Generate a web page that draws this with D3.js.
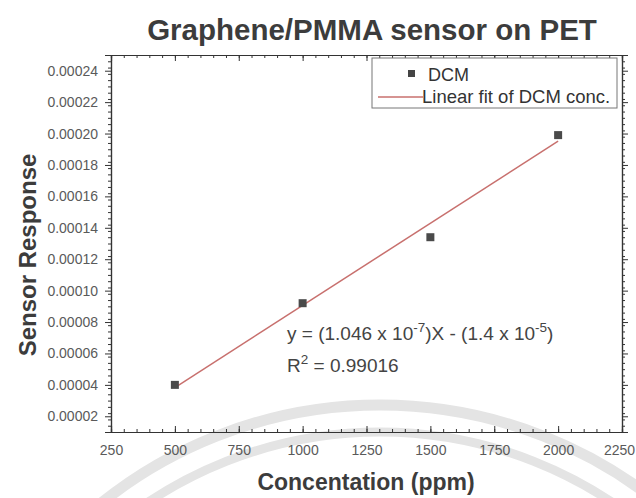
<!DOCTYPE html>
<html>
<head>
<meta charset="utf-8">
<script src="https://cdn.jsdelivr.net/npm/d3@7"></script>
<style>
  body { margin: 0; background: #fff; }
  svg { font-family: "Liberation Sans", Arial, sans-serif; }
</style>
</head>
<body>
<script>
const width = 636;
const height = 498;

// data
const concentration = [500, 1000, 1500, 2000];
const response = [0.00004, 0.000092, 0.000134, 0.000199];
const fitSlope = 1.046e-7;
const fitIntercept = -1.4e-5;
const xTicks = [250, 500, 750, 1000, 1250, 1500, 1750, 2000, 2250];
const yTicks = [0.00002, 0.00004, 0.00006, 0.00008, 0.00010, 0.00012,
	0.00014, 0.00016, 0.00018, 0.00020, 0.00022, 0.00024];

const margin = { left: 111, top: 55, right: 14, bottom: 66 };

const svg = d3.select("body").append("svg")
	.attr("width", width)
	.attr("height", height);

// faint scan arcs in the background
const arcs = svg.append("g").attr("fill", "none").attr("stroke", "#e4e4e4");
arcs.append("circle").attr("cx", 380).attr("cy", 850).attr("r", 445).attr("stroke-width", 11);
arcs.append("circle").attr("cx", 380).attr("cy", 850).attr("r", 418).attr("stroke-width", 9);

const x = d3.scaleLinear()
	.domain([250, 2250])
	.range([margin.left, width - margin.right]);

const y = d3.scaleLinear()
	.domain([0.00001, 0.00025])
	.range([height - margin.bottom, margin.top]);

const x0 = x.range()[0], x1 = x.range()[1];
const y0 = y.range()[0], y1 = y.range()[1];

const xMinor = d3.range(250, 2251, 50);
const yMinor = d3.range(0.00001, 0.000251, 0.000004);

function styleAxis(g) {
	g.attr("font-family", null).attr("font-size", 14);
	g.select(".domain").attr("stroke", "#333").attr("stroke-width", 1.2);
	g.selectAll(".tick line").attr("stroke", "#333");
	g.selectAll(".tick text").attr("fill", "#5a5a5a");
}

// bottom
svg.append("g").attr("transform", `translate(0,${y0})`)
	.call(d3.axisBottom(x).tickValues(xMinor).tickSize(-3).tickFormat(""))
	.call(styleAxis);
svg.append("g").attr("transform", `translate(0,${y0})`)
	.call(d3.axisBottom(x).tickValues(xTicks).tickSize(-6).tickPadding(13).tickFormat(d3.format("d")))
	.call(styleAxis)
	.call((g) => g.selectAll(".tick text").filter((d) => d === 2250).attr("dx", -3));
// top
svg.append("g").attr("transform", `translate(0,${y1})`)
	.call(d3.axisTop(x).tickValues(xMinor).tickSize(-3).tickFormat(""))
	.call(styleAxis);
svg.append("g").attr("transform", `translate(0,${y1})`)
	.call(d3.axisTop(x).tickValues(xTicks).tickSize(-6).tickFormat(""))
	.call(styleAxis);
// left
svg.append("g").attr("transform", `translate(${x0},0)`)
	.call(d3.axisLeft(y).tickValues(yMinor).tickSize(3).tickFormat(""))
	.call(styleAxis);
svg.append("g").attr("transform", `translate(${x0},0)`)
	.call(d3.axisLeft(y).tickValues(yTicks).tickSize(6).tickPadding(7).tickFormat(d3.format(".5f")))
	.call(styleAxis);
// right
svg.append("g").attr("transform", `translate(${x1},0)`)
	.call(d3.axisRight(y).tickValues(yMinor).tickSize(3).tickFormat(""))
	.call(styleAxis);
svg.append("g").attr("transform", `translate(${x1},0)`)
	.call(d3.axisRight(y).tickValues(yTicks).tickSize(6).tickFormat(""))
	.call(styleAxis);

// fit line
const fitX = [concentration[0], concentration[concentration.length - 1]];
svg.append("line")
	.attr("x1", x(fitX[0])).attr("y1", y(fitSlope * fitX[0] + fitIntercept))
	.attr("x2", x(fitX[1])).attr("y2", y(fitSlope * fitX[1] + fitIntercept))
	.attr("stroke", "#c8706e")
	.attr("stroke-width", 1.5);

// points
svg.selectAll("rect.pt")
	.data(concentration)
	.enter()
	.append("rect")
	.attr("class", "pt")
	.attr("x", (d) => x(d) - 4)
	.attr("y", (d, i) => y(response[i]) - 4)
	.attr("width", 8)
	.attr("height", 8)
	.attr("fill", "#4a4a4a");

// legend
const lg = svg.append("g").attr("transform", "translate(372,58)");
lg.append("rect")
	.attr("width", 245).attr("height", 50)
	.attr("fill", "#fff").attr("stroke", "#777").attr("stroke-width", 1);
lg.append("rect").attr("x", 36).attr("y", 12).attr("width", 7).attr("height", 7).attr("fill", "#444");
lg.append("text").attr("x", 56).attr("y", 23).attr("font-size", 18).attr("fill", "#333").text("DCM");
lg.append("line").attr("x1", 6).attr("x2", 51).attr("y1", 39).attr("y2", 39)
	.attr("stroke", "#c8706e").attr("stroke-width", 1.5);
lg.append("text").attr("x", 50).attr("y", 45).attr("font-size", 18.5).attr("fill", "#333")
	.text("Linear fit of DCM conc.");

// equation
const eq = svg.append("text").attr("x", 287).attr("y", 340).attr("font-size", 19).attr("fill", "#444");
eq.append("tspan").text("y = (1.046 x 10");
eq.append("tspan").attr("dy", -8).attr("font-size", 13.5).text("-7");
eq.append("tspan").attr("dy", 8).text(")X - (1.4 x 10");
eq.append("tspan").attr("dy", -8).attr("font-size", 13.5).text("-5");
eq.append("tspan").attr("dy", 8).text(")");

const r2 = svg.append("text").attr("x", 287).attr("y", 372).attr("font-size", 19).attr("fill", "#444");
r2.append("tspan").text("R");
r2.append("tspan").attr("dy", -8).attr("font-size", 13.5).text("2");
r2.append("tspan").attr("dy", 8).text(" = 0.99016");

// title and axis titles
svg.append("text")
	.attr("x", 372).attr("y", 40)
	.attr("text-anchor", "middle")
	.attr("font-size", 29.5).attr("font-weight", "bold").attr("fill", "#3c3c3c")
	.text("Graphene/PMMA sensor on PET");

svg.append("text")
	.attr("x", 366).attr("y", 490)
	.attr("text-anchor", "middle")
	.attr("font-size", 23).attr("font-weight", "bold").attr("fill", "#3c3c3c")
	.text("Concentation (ppm)");

svg.append("text")
	.attr("transform", "translate(36,255) rotate(-90)")
	.attr("text-anchor", "middle")
	.attr("font-size", 24).attr("font-weight", "bold").attr("fill", "#3c3c3c")
	.text("Sensor Response");
</script>
</body>
</html>
